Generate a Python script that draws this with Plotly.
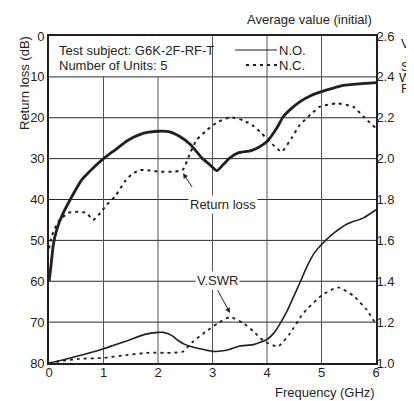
import plotly.graph_objects as go

# ---------------- data ----------------
# Return loss (dB), N.O. (solid, thick)
rl_no_f = [0, 0.03, 0.08, 0.14, 0.23, 0.39, 0.6, 0.8, 1.0, 1.21, 1.45, 1.65, 1.8, 2.0, 2.2, 2.4, 2.6, 2.8, 2.95, 3.08,
           3.2, 3.32, 3.47, 3.69, 3.85, 4.0, 4.18, 4.3, 4.45, 4.6, 4.8, 5.0, 5.2, 5.4, 5.7, 6.0]
rl_no_db = [60, 57, 51, 47.5, 44.2, 40, 35.2, 32.4, 30, 27.9, 25.5, 24.2, 23.6, 23.3, 23.4, 24.6, 26.6, 29.8, 31.5, 33,
            31.4, 29.8, 28.6, 28.1, 27.2, 25.8, 22.5, 19.7, 17.7, 16.1, 14.6, 13.6, 12.8, 12.1, 11.7, 11.4]

# Return loss (dB), N.C. (dotted)
rl_nc_f = [0, 0.05, 0.17, 0.35, 0.53, 0.69, 0.81, 0.94, 1.06, 1.21, 1.39, 1.52, 1.67, 1.85, 2.03, 2.25, 2.45, 2.59,
           2.71, 2.9, 3.1, 3.32, 3.56, 3.75, 3.9, 4.1, 4.27, 4.45, 4.6, 4.8, 4.97, 5.28, 5.58, 5.77, 6.0]
rl_nc_db = [52, 49, 45.4, 43.3, 43, 43.3, 45, 43.3, 41.3, 39.3, 35.6, 33.8, 32.8, 32.9, 33.2, 33.2, 32.8, 28.6,
            25.4, 23, 21, 19.9, 20.6, 22, 23.8, 26.5, 28.3, 25, 21.8, 19.2, 17.3, 16.5, 17.3, 19.7, 22.6]

# V.SWR, N.O. (solid, thin)
vs_no_f = [0, 0.25, 0.53, 0.75, 1.0, 1.2, 1.45, 1.76, 2.0, 2.1, 2.25, 2.37, 2.5, 2.62, 2.77, 3.0, 3.26, 3.5, 3.75,
           4.0, 4.12, 4.24, 4.36, 4.48, 4.6, 4.73, 4.86, 5.0, 5.22, 5.47, 5.77, 6.0]
vs_no_v = [1.0, 1.015, 1.034, 1.05, 1.07, 1.088, 1.11, 1.14, 1.15, 1.15, 1.135, 1.11, 1.09, 1.08, 1.07, 1.057, 1.062,
           1.083, 1.09, 1.115, 1.145, 1.193, 1.25, 1.32, 1.39, 1.47, 1.535, 1.58, 1.634, 1.68, 1.71, 1.75]

# V.SWR, N.C. (dotted)
vs_nc_f = [0, 0.53, 1.0, 1.45, 1.82, 2.25, 2.45, 2.62, 2.86, 3.1, 3.32, 3.56, 3.75, 3.93, 4.2, 4.42, 4.66, 5.0,
           5.3, 5.58, 5.83, 6.0]
vs_nc_v = [1.0, 1.02, 1.025, 1.04, 1.05, 1.05, 1.055, 1.10, 1.15, 1.195, 1.225, 1.196, 1.155, 1.11, 1.08, 1.144,
           1.242, 1.33, 1.37, 1.33, 1.26, 1.19]

x_ticks = [0, 1, 2, 3, 4, 5, 6]
rl_ticks = [0, 10, 20, 30, 40, 50, 60, 70, 80]
vs_ticks = [1.0, 1.2, 1.4, 1.6, 1.8, 2.0, 2.2, 2.4, 2.6]

# ---------------- layout helpers ----------------
OFF = 8  # page body margin: figure is drawn 8px in from the top-left corner
W, H = 414 - OFF, 401 - OFF
# plot box in window pixels
L, R, T, B = 49, 376, 36, 363
FONT = "Liberation Sans, Arial, sans-serif"
INK = "#231f20"


def px_x(p):
    return (p - L) / (R - L)


def px_y(p):
    return (B - p) / (B - T)


fig = go.Figure()

fig.add_trace(go.Scatter(x=rl_no_f, y=rl_no_db, mode="lines", yaxis="y",
                         line=dict(color=INK, width=2.8, shape="spline", smoothing=0.5), showlegend=False))
fig.add_trace(go.Scatter(x=rl_nc_f, y=rl_nc_db, mode="lines", yaxis="y",
                         line=dict(color=INK, width=2, dash="3px,4px", shape="spline", smoothing=0.5),
                         showlegend=False))
fig.add_trace(go.Scatter(x=vs_no_f, y=vs_no_v, mode="lines", yaxis="y2",
                         line=dict(color=INK, width=1.6, shape="spline", smoothing=0.6), showlegend=False))
fig.add_trace(go.Scatter(x=vs_nc_f, y=vs_nc_v, mode="lines", yaxis="y2",
                         line=dict(color=INK, width=1.8, dash="3px,4px", shape="spline", smoothing=0.5),
                         showlegend=False))

shapes = []
# horizontal grid lines
for v in rl_ticks[1:-1]:
    shapes.append(dict(type="line", xref="x", yref="y", x0=0, x1=6, y0=v, y1=v, layer="below",
                       line=dict(color="#2a2a2a", width=1)))
# vertical grid lines (1 and 2 stop below the caption band)
for v in x_ticks[1:-1]:
    top = 10 if v < 3 else 0
    shapes.append(dict(type="line", xref="x", yref="y", x0=v, x1=v, y0=top, y1=80, layer="below",
                       line=dict(color="#555555", width=1)))
# legend samples
shapes.append(dict(type="line", xref="paper", yref="paper", x0=px_x(235), x1=px_x(277), y0=px_y(50), y1=px_y(50),
                   line=dict(color=INK, width=1.2)))
shapes.append(dict(type="line", xref="paper", yref="paper", x0=px_x(246), x1=px_x(277), y0=px_y(65), y1=px_y(65),
                   line=dict(color=INK, width=1.8, dash="3px,4px")))

f13 = dict(family=FONT, size=13, color=INK)
f12 = dict(family=FONT, size=12, color=INK)
ann = []
ann.append(dict(text="Test subject: G6K-2F-RF-T", xref="paper", yref="paper", x=px_x(57), y=px_y(50),
                xanchor="left", yanchor="middle", showarrow=False, font=f13))
ann.append(dict(text="Number of Units: 5", xref="paper", yref="paper", x=px_x(57), y=px_y(65),
                xanchor="left", yanchor="middle", showarrow=False, font=f13))
ann.append(dict(text="N.O.", xref="paper", yref="paper", x=px_x(277), y=px_y(50),
                xanchor="left", yanchor="middle", showarrow=False, font=f13))
ann.append(dict(text="N.C.", xref="paper", yref="paper", x=px_x(277), y=px_y(65),
                xanchor="left", yanchor="middle", showarrow=False, font=f13))
ann.append(dict(text="Average value (initial)", xref="paper", yref="paper", x=px_x(374), y=px_y(20),
                xanchor="right", yanchor="middle", showarrow=False, font=f13))
ann.append(dict(text="Frequency (GHz)", xref="paper", yref="paper", x=px_x(377), y=px_y(393),
                xanchor="right", yanchor="middle", showarrow=False, font=f13))
ann.append(dict(text="Return loss (dB)", xref="paper", yref="paper", x=px_x(24), y=px_y(83), textangle=-90,
                xanchor="center", yanchor="middle", showarrow=False, font=f13))
for ch, yy in [("V", 43), ("·", 55), ("S", 66), ("W", 77), ("R", 88)]:
    ann.append(dict(text=ch, xref="paper", yref="paper", x=px_x(406), y=px_y(yy),
                    xanchor="center", yanchor="middle", showarrow=False, font=f13, borderpad=0))
# curve labels with white background
ann.append(dict(text="Return loss", xref="paper", yref="paper", x=px_x(223), y=px_y(204),
                xanchor="center", yanchor="middle", showarrow=False, font=f13, bgcolor="white", borderpad=1))
ann.append(dict(text="V.SWR", xref="paper", yref="paper", x=px_x(217), y=px_y(280),
                xanchor="center", yanchor="middle", showarrow=False, font=f13, bgcolor="white", borderpad=1))
# arrows
ann.append(dict(text="", xref="x", yref="y", x=2.46, y=33.6, ax=10, ay=15, showarrow=True,
                arrowhead=2, arrowsize=1, arrowwidth=1, arrowcolor=INK))
ann.append(dict(text="", xref="x", yref="y2", x=3.32, y=1.245, ax=-13, ay=-24, showarrow=True,
                arrowhead=2, arrowsize=1, arrowwidth=1, arrowcolor=INK))

fig.update_layout(
    width=W, height=H,
    margin=dict(l=L - OFF, r=W - (R - OFF), t=T - OFF, b=H - (B - OFF), pad=0),
    paper_bgcolor="white", plot_bgcolor="white",
    font=f13,
    xaxis=dict(range=[0, 6], tickvals=x_ticks, ticks="", showgrid=False, zeroline=False,
               showline=True, linecolor=INK, linewidth=1.6, mirror=True, tickfont=f13,
               ticklabelstandoff=-3),
    yaxis=dict(range=[80, 0], tickvals=rl_ticks, ticks="", showgrid=False, zeroline=False,
               showline=True, linecolor=INK, linewidth=1.6, mirror=True, tickfont=f13),
    yaxis2=dict(range=[1.0, 2.6], tickvals=vs_ticks, tickformat=".1f", ticks="", side="right",
                overlaying="y", showgrid=False, zeroline=False, showline=True, linecolor=INK,
                linewidth=1.6, tickfont=f13, ticklabelstandoff=-4),
    shapes=shapes, annotations=ann, showlegend=False,
)

fig.write_html("out.html")
